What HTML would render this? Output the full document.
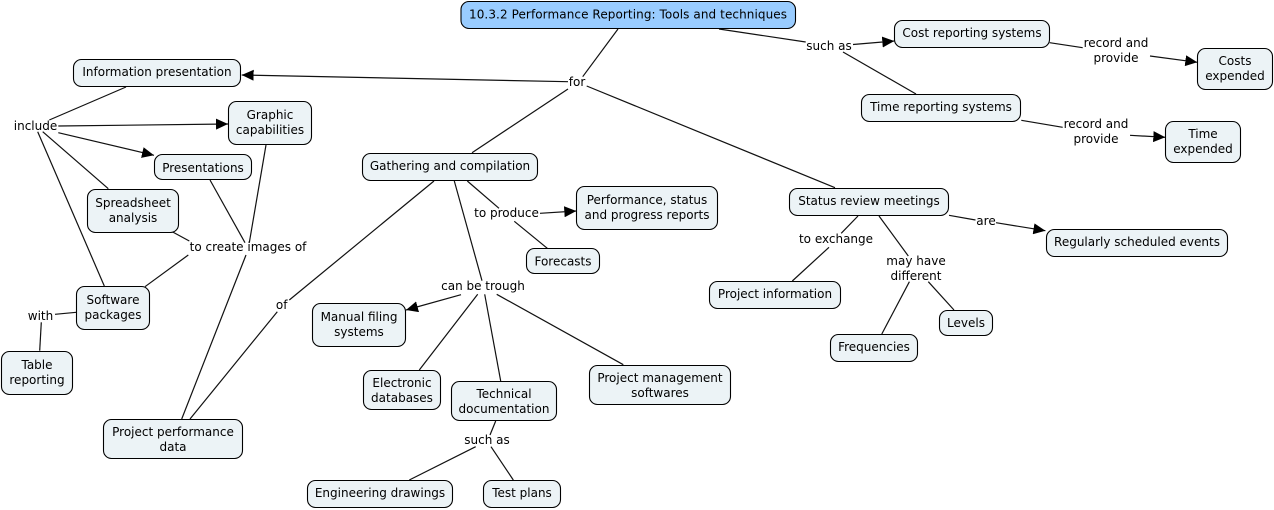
<!DOCTYPE html>
<html><head><meta charset="utf-8"><style>
html,body{margin:0;padding:0;background:#fff;width:1274px;height:510px;overflow:hidden}
svg{display:block}
text{font-family:"DejaVu Sans","Liberation Sans",sans-serif;font-size:12px;fill:#000;text-anchor:middle}
rect{fill:#ecf3f6;stroke:#000;stroke-width:1.1}
line{stroke:#111;stroke-width:1.2}
</style></head><body>
<svg width="1274" height="510" viewBox="0 0 1274 510" xmlns="http://www.w3.org/2000/svg">
<defs><marker id="a" markerUnits="userSpaceOnUse" markerWidth="12" markerHeight="11" refX="12" refY="5.5" orient="auto"><path d="M0,0L12,5.5L0,11Z" fill="#000"/></marker></defs>
<g>
<line x1="618" y1="29" x2="582.7" y2="76.7"/>
<line x1="568" y1="81.7" x2="241.7" y2="75" marker-end="url(#a)"/>
<line x1="568" y1="89" x2="472" y2="152.7"/>
<line x1="586.7" y1="86" x2="835" y2="187.7"/>
<line x1="719" y1="29" x2="805.7" y2="42"/>
<line x1="853" y1="44.5" x2="894.3" y2="41" marker-end="url(#a)"/>
<line x1="843" y1="52" x2="916" y2="94"/>
<line x1="1049.7" y1="42.7" x2="1082.7" y2="47.7"/>
<line x1="1150" y1="56" x2="1197.3" y2="62.3" marker-end="url(#a)"/>
<line x1="1021.3" y1="120.3" x2="1062.7" y2="127.3"/>
<line x1="1130" y1="135.3" x2="1165.3" y2="137.3" marker-end="url(#a)"/>
<line x1="126" y1="87" x2="49.3" y2="120"/>
<line x1="58.3" y1="126" x2="228" y2="124" marker-end="url(#a)"/>
<line x1="58.3" y1="132.7" x2="154" y2="155.3" marker-end="url(#a)"/>
<line x1="42.7" y1="131.7" x2="108.3" y2="188.7"/>
<line x1="37.7" y1="131.7" x2="104.3" y2="286"/>
<line x1="266" y1="145" x2="249.3" y2="242.7"/>
<line x1="210" y1="180" x2="245" y2="242.7"/>
<line x1="172.7" y1="232" x2="189.3" y2="241"/>
<line x1="145" y1="286.7" x2="188.3" y2="255"/>
<line x1="246" y1="255" x2="181.7" y2="419"/>
<line x1="76.3" y1="312.3" x2="55" y2="314.3"/>
<line x1="41.3" y1="322.3" x2="39.7" y2="350.7"/>
<line x1="190" y1="419" x2="277.3" y2="311.7"/>
<line x1="289.3" y1="300" x2="434" y2="181"/>
<line x1="467.3" y1="181" x2="499" y2="208.3"/>
<line x1="540" y1="213.3" x2="576.3" y2="211" marker-end="url(#a)"/>
<line x1="514.3" y1="221.3" x2="547.3" y2="248.3"/>
<line x1="454.3" y1="181" x2="482" y2="280.7"/>
<line x1="461" y1="294.7" x2="406" y2="310" marker-end="url(#a)"/>
<line x1="477.7" y1="294.3" x2="419.3" y2="370"/>
<line x1="484.7" y1="294.3" x2="500.7" y2="381"/>
<line x1="496.7" y1="294.3" x2="623.3" y2="364.7"/>
<line x1="495.7" y1="421" x2="490" y2="435"/>
<line x1="475.7" y1="446.7" x2="409.3" y2="480"/>
<line x1="491" y1="446.7" x2="513.3" y2="480"/>
<line x1="858" y1="216" x2="841.2" y2="233.3"/>
<line x1="829" y1="247.3" x2="792.3" y2="281"/>
<line x1="879" y1="216" x2="908.3" y2="256"/>
<line x1="909.4" y1="281.7" x2="881.8" y2="334"/>
<line x1="928.3" y1="281.7" x2="954" y2="310"/>
<line x1="949" y1="215.3" x2="975.5" y2="220"/>
<line x1="996" y1="222.7" x2="1045.4" y2="230.7" marker-end="url(#a)"/>
</g>
<g>
<rect x="461" y="1.5" width="334.5" height="27" rx="8" style="fill:#99ccff"/>
<rect x="73.5" y="59.5" width="167" height="27" rx="8"/>
<rect x="228.5" y="101.5" width="83" height="43" rx="8"/>
<rect x="154.5" y="154.5" width="97" height="25" rx="8"/>
<rect x="87.5" y="189.5" width="91" height="43" rx="8"/>
<rect x="76.5" y="286.5" width="73" height="43" rx="8"/>
<rect x="1.5" y="351.5" width="71" height="43" rx="8"/>
<rect x="103.5" y="419.5" width="139" height="39" rx="8"/>
<rect x="362.5" y="153.5" width="175" height="27" rx="8"/>
<rect x="576.5" y="186.5" width="141" height="43" rx="8"/>
<rect x="526.5" y="248.5" width="73" height="25" rx="8"/>
<rect x="312.5" y="303.5" width="93" height="43" rx="8"/>
<rect x="363.5" y="370.5" width="77" height="39" rx="8"/>
<rect x="451.5" y="381.5" width="105" height="39" rx="8"/>
<rect x="589.5" y="365.5" width="141" height="39" rx="8"/>
<rect x="307.5" y="480.5" width="145" height="27" rx="8"/>
<rect x="483.5" y="480.5" width="77" height="27" rx="8"/>
<rect x="789.5" y="188.5" width="159" height="27" rx="8"/>
<rect x="1046.5" y="229.5" width="181" height="27" rx="8"/>
<rect x="709.5" y="281.5" width="131" height="27" rx="8"/>
<rect x="939.5" y="310.5" width="53" height="25" rx="8"/>
<rect x="830.5" y="334.5" width="87" height="27" rx="8"/>
<rect x="894.5" y="20.5" width="155" height="27" rx="8"/>
<rect x="861.5" y="94.5" width="159" height="27" rx="8"/>
<rect x="1197.5" y="48.5" width="75" height="41" rx="8"/>
<rect x="1165.5" y="121.5" width="75" height="41" rx="8"/>
</g>
<g>
<text x="628" y="18.5" textLength="318">10.3.2 Performance Reporting: Tools and techniques</text>
<text x="157" y="76">Information presentation</text>
<text x="270" y="119">Graphic</text><text x="270" y="134">capabilities</text>
<text x="203" y="172">Presentations</text>
<text x="133" y="207">Spreadsheet</text><text x="133" y="222">analysis</text>
<text x="113" y="304">Software</text><text x="113" y="319">packages</text>
<text x="37" y="369">Table</text><text x="37" y="384">reporting</text>
<text x="173" y="436">Project performance</text><text x="173" y="451">data</text>
<text x="450" y="170">Gathering and compilation</text>
<text x="647" y="204">Performance, status</text><text x="647" y="219">and progress reports</text>
<text x="563" y="265.5">Forecasts</text>
<text x="359" y="321">Manual filing</text><text x="359" y="336">systems</text>
<text x="402" y="387">Electronic</text><text x="402" y="402">databases</text>
<text x="504" y="398">Technical</text><text x="504" y="413">documentation</text>
<text x="660" y="382">Project management</text><text x="660" y="397">softwares</text>
<text x="380" y="497">Engineering drawings</text>
<text x="522" y="497">Test plans</text>
<text x="869" y="205">Status review meetings</text>
<text x="1137" y="246">Regularly scheduled events</text>
<text x="775" y="298">Project information</text>
<text x="966" y="327">Levels</text>
<text x="874" y="351">Frequencies</text>
<text x="972" y="37">Cost reporting systems</text>
<text x="941" y="111">Time reporting systems</text>
<text x="1235" y="65">Costs</text><text x="1235" y="80">expended</text>
<text x="1203" y="138">Time</text><text x="1203" y="153">expended</text>
<text x="577" y="86">for</text>
<text x="829" y="50">such as</text>
<text x="1116" y="47">record and</text><text x="1116" y="62">provide</text>
<text x="1096" y="128">record and</text><text x="1096" y="143">provide</text>
<text x="35.5" y="130">include</text>
<text x="248" y="251">to create images of</text>
<text x="40.5" y="320">with</text>
<text x="281.7" y="309">of</text>
<text x="506.5" y="217">to produce</text>
<text x="483" y="290">can be trough</text>
<text x="487" y="444">such as</text>
<text x="836" y="243">to exchange</text>
<text x="916" y="265">may have</text><text x="916" y="280">different</text>
<text x="986" y="225">are</text>
</g>
</svg>
</body></html>
